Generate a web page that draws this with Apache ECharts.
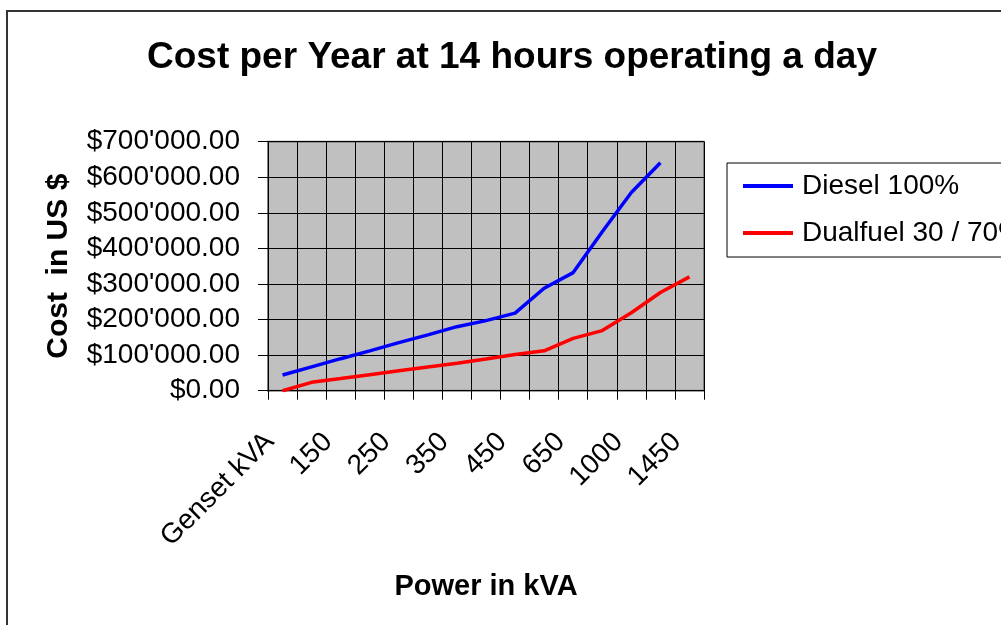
<!DOCTYPE html>
<html>
<head>
<meta charset="utf-8">
<script src="https://cdn.jsdelivr.net/npm/echarts@6/dist/echarts.min.js"></script>
<style>
  html, body { margin: 0; padding: 0; background: #fff; }
  #chart { width: 1001px; height: 625px; }
</style>
</head>
<body>
<div id="chart"></div>
<script>
const categories = ['Genset kVA', '100', '150', '200', '250', '300', '350', '400', '450', '500', '650', '800', '1000', '1250', '1450']
const diesel = [44000, 67000, 90000, 112000, 135000, 157000, 180000, 197000, 218000, 288000, 332000, 447000, 557000, 641000, null]
const dualfuel = [0, 23500, 34000, 45000, 56000, 66600, 77000, 89000, 102000, 112000, 147000, 169000, 219000, 276000, 320000]
const yTicks = [0, 100000, 200000, 300000, 400000, 500000, 600000, 700000]

function money(v) {
  if (v === 0) return '$0.00'
  return '$' + String(v).replace(/\B(?=(\d{3})+(?!\d))/g, "'") + '.00'
}

const font = 'Liberation Sans, Arial, sans-serif'

const option = {
  backgroundColor: '#fff',
  animation: false,
  title: {
    text: 'Cost per Year at 14 hours operating a day',
    left: 507,
    top: 34,
    textAlign: 'center',
    textStyle: { fontFamily: font, fontSize: 37, fontWeight: 'bold', color: '#000' },
  },
  graphic: [
    {
      type: 'rect',
      shape: { x: 7, y: 11, width: 1100, height: 700 },
      style: { fill: 'none', stroke: '#333', lineWidth: 2 },
      silent: true,
    },
  ],
  legend: {
    orient: 'vertical',
    left: 727,
    top: 163,
    padding: [9, 40, 10, 16],
    itemGap: 19,
    itemWidth: 50,
    itemHeight: 4,
    icon: 'rect',
    borderColor: '#000',
    borderWidth: 1,
    backgroundColor: '#fff',
    textStyle: { fontFamily: font, fontSize: 28, color: '#000', padding: [0, 0, 0, 4] },
    data: ['Diesel 100%', 'Dualfuel 30 / 70%'],
  },
  grid: {
    left: 268,
    right: 297,
    top: 141.7,
    bottom: 234.3,
    show: true,
    backgroundColor: '#C0C0C0',
    borderColor: '#808080',
    borderWidth: 2,
  },
  xAxis: {
    type: 'category',
    data: categories,
    boundaryGap: true,
    name: 'Power in kVA',
    nameLocation: 'middle',
    nameGap: 182,
    nameTextStyle: { fontFamily: font, fontSize: 29, fontWeight: 'bold', color: '#000' },
    axisLine: { lineStyle: { color: '#000', width: 1 } },
    axisTick: { show: true, interval: 0, length: 9, lineStyle: { color: '#000' } },
    axisLabel: {
      interval: 1,
      rotate: 45,
      margin: 34,
      padding: [0, 18, 0, 0],
      fontFamily: font,
      fontSize: 28,
      color: '#000',
    },
    splitLine: { show: true, interval: 0, lineStyle: { color: '#000', width: 1 } },
  },
  yAxis: {
    type: 'value',
    min: 0,
    max: 700000,
    interval: 100000,
    name: 'Cost  in US $',
    nameLocation: 'middle',
    nameGap: 194,
    nameTextStyle: { fontFamily: font, fontSize: 30, fontWeight: 'bold', color: '#000' },
    axisLine: { show: true, lineStyle: { color: '#000', width: 1 } },
    axisTick: { show: true, length: 10, lineStyle: { color: '#000' } },
    axisLabel: {
      margin: 28,
      fontFamily: font,
      fontSize: 28,
      color: '#000',
      formatter: v => (yTicks.indexOf(v) >= 0 ? money(v) : ''),
    },
    splitLine: { show: true, lineStyle: { color: '#000', width: 1 } },
  },
  series: [
    {
      name: 'Diesel 100%',
      type: 'line',
      data: diesel,
      symbol: 'none',
      lineStyle: { color: '#0000FF', width: 3.5 },
      itemStyle: { color: '#0000FF' },
    },
    {
      name: 'Dualfuel 30 / 70%',
      type: 'line',
      data: dualfuel,
      symbol: 'none',
      lineStyle: { color: '#FF0000', width: 3.5 },
      itemStyle: { color: '#FF0000' },
    },
  ],
}

var myChart = echarts.init(document.getElementById('chart'), null, { renderer: 'canvas' })
myChart.setOption(option)
</script>
</body>
</html>
